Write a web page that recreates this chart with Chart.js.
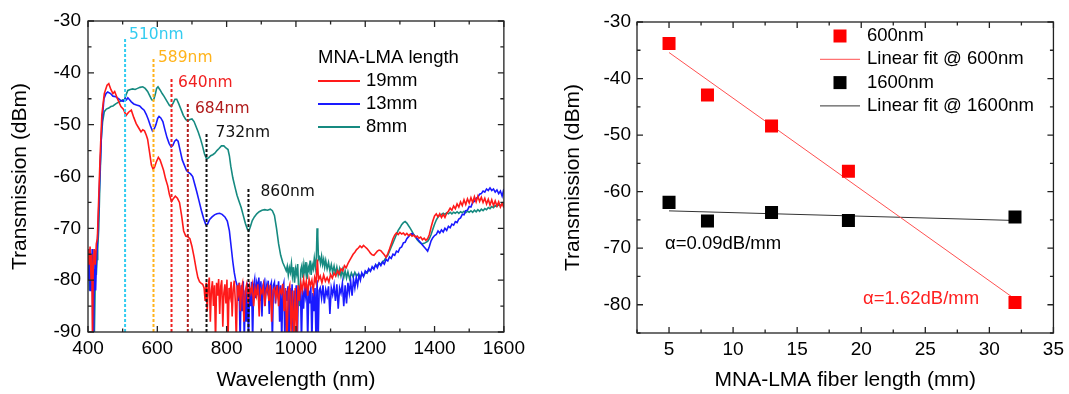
<!DOCTYPE html>
<html>
<head>
<meta charset="utf-8">
<script src="https://cdn.jsdelivr.net/npm/chart.js@4.4.1/dist/chart.umd.min.js"></script>
<style>
  body { margin: 0; background: #fff; }
  canvas { position: absolute; top: 0; }
  #spectra { left: 0; }
  #loss { left: 555px; }
</style>
</head>
<body>
<canvas id="spectra" width="530" height="394"></canvas>
<canvas id="loss" width="514" height="394"></canvas>
<script>
// ---- left panel: transmission spectra (wavelength nm, dBm) ----
const red19 = [[400,-74],[403,-77],[406,-73.5],[409,-80],[411,-75],[413,-92],[415,-78],[418,-74],[421,-77],[424,-73],[427,-72],[430,-66],[435,-56],[440,-48],[447,-44],[455,-42.4],[460,-42.1],[466,-43.2],[472,-44],[477,-43.6],[485,-45],[495,-46.5],[502,-47],[510,-48.2],[517,-47.6],[525,-47.2],[532,-48.6],[539,-49.8],[546,-50.6],[553,-51.4],[558,-51],[563,-51.2],[568,-52],[572,-52.8],[578,-55.5],[583,-57.8],[588,-58.6],[592,-58.2],[597,-57.2],[603,-56.3],[608,-56.8],[613,-57.8],[618,-58.8],[624,-60.5],[630,-61.8],[635,-63.5],[641,-64.8],[646,-64.3],[652,-63.8],[658,-64.2],[664,-65],[670,-67.5],[676,-70.5],[682,-71.5],[688,-71.6],[694,-72],[700,-73.5],[706,-75.5],[712,-77.8],[717,-79.5],[722,-80.3],[727,-80.6],[731,-80.8],
  [735,-81.5],[738,-84],[741,-80.5],[744,-86],[747,-81],[750,-79.5],[753,-88],[756,-82],[759,-80.2],[762,-85],[765,-81],[768,-92],[771,-80.5],[774,-83],[777,-79.8],[780,-86.5],[783,-81.2],[786,-80],[789,-89],[792,-82.5],[795,-80.8],[798,-84.5],[801,-79.9],[804,-92],[807,-81.5],[810,-83],[813,-80.3],[816,-87],[819,-81.8],[822,-80.1],[825,-84],[828,-92],[831,-81],[834,-82.5],[837,-80.5],[840,-86],[843,-81.5],[846,-80.6],[850,-88],[854,-82],[858,-80.8],[862,-84.5],[866,-81.2],[870,-82.5],[874,-80.9],[878,-85],[882,-81.5],[886,-83],[890,-80.8],[894,-87],[898,-81.8],[902,-82.5],[906,-81],[910,-85],[914,-82],[918,-81.2],[922,-84],[926,-80.9],[930,-88],[934,-82],[938,-81.5],[942,-83.5],[946,-81],[950,-85],[954,-81.8],[958,-82.5],[962,-80.7],[966,-86],[970,-81.5],[974,-92],[978,-82],[982,-81],[986,-90],[990,-82],[994,-92],[998,-81.5],[1002,-92],[1006,-81],[1010,-84],[1014,-80.5],[1018,-82],[1022,-79.8],[1026,-81.5],[1030,-80.2],[1034,-83],[1038,-79.8],[1042,-81],[1046,-80],[1050,-82],[1054,-79.5],[1058,-80.5],[1062,-76],[1065,-80],
  [1070,-79.2],[1075,-80.5],[1080,-79],[1085,-80.2],[1090,-79.5],[1095,-80.4],[1100,-78.9],[1105,-79.6],[1110,-78.6],[1115,-79.2],[1120,-78.2],[1125,-78.8],[1130,-77.8],[1135,-78.2],[1140,-77.2],[1145,-77.6],[1150,-76.8],[1155,-76.2],[1160,-75.6],[1165,-75],[1170,-74.6],[1175,-74.1],[1180,-73.8],[1185,-73.4],[1190,-73.7],[1195,-73.3],[1200,-73.6],[1205,-73.9],[1210,-74.3],[1215,-74.8],[1220,-75.1],[1225,-75.2],[1230,-74.8],[1235,-74.4],[1240,-74.2],[1245,-74.3],[1250,-74.7],[1255,-75.1],[1260,-75.6],[1265,-74.9],[1270,-74],[1275,-73],[1280,-72],[1285,-71.3],[1290,-70.9],[1295,-71.2],[1300,-70.8],[1305,-71.1],[1310,-70.9],[1315,-71.3],[1320,-71],[1325,-71.4],[1330,-71.1],[1335,-71.5],[1340,-71.3],[1345,-71.7],[1350,-71.5],[1355,-71.9],[1360,-71.7],[1365,-72.2],[1370,-71.9],[1375,-72.3],[1380,-72],[1385,-71.2],[1390,-69.8],[1395,-68.6],[1400,-67.6],[1405,-67.2],[1410,-67.8],[1415,-67.2],[1420,-67.9],[1425,-67.3],[1430,-67.9],[1435,-67.1],[1440,-66.7],[1445,-66.1],[1450,-66.5],[1455,-65.7],[1460,-66.2],[1465,-65.3],[1470,-65.9],[1475,-64.9],[1480,-65.6],[1485,-64.5],[1490,-65.4],[1495,-64.3],[1500,-65.1],[1505,-64.1],[1510,-65],[1515,-63.9],[1520,-64.9],[1525,-63.8],[1530,-64.8],[1535,-64],[1540,-65],[1545,-64.2],[1550,-65.3],[1555,-64.4],[1560,-65.5],[1565,-64.5],[1570,-65.6],[1575,-64.7],[1580,-65.7],[1585,-64.9],[1590,-65.9],[1595,-65.2],[1600,-66]];

const blue13 = [[400,-75],[402,-80],[404,-74],[406,-82],[408,-76],[410,-81],[412,-74],[414,-92],[416,-92],[418,-78],[420,-75],[422,-82],[424,-77],[426,-74],[429,-70],[434,-60],[440,-50],[446,-45],[452,-44],[457,-43.7],[465,-44],[472,-44.5],[480,-44.6],[488,-45],[496,-45.4],[502,-45.5],[507,-45],[511,-45.2],[515,-44.8],[520,-45.2],[525,-45.6],[532,-46],[540,-46.2],[549,-46.4],[555,-46.8],[562,-47.2],[568,-48],[574,-49],[580,-50.2],[586,-51.2],[591,-50.8],[596,-50],[601,-48.8],[605,-48.4],[610,-48.7],[616,-49.4],[622,-51],[628,-52.5],[634,-53.6],[640,-54.3],[645,-54],[650,-53.2],[655,-52.9],[660,-53.2],[666,-55],[672,-56.8],[678,-57.8],[684,-58.8],[690,-59.2],[696,-59.5],[702,-60],[708,-61.5],[714,-63],[720,-64.6],[727,-66.5],[734,-68.2],[740,-69.3],[745,-69.2],[751,-68.3],[758,-67.8],[765,-67.4],[772,-67.2],[780,-67.1],[787,-67.3],[795,-67.8],[802,-68.6],[808,-70.5],[813,-73.5],[818,-76.5],[822,-78.5],[826,-80],[830,-81],
  [833,-84],[836,-80.5],[839,-92],[842,-81],[845,-86],[848,-80.2],[851,-92],[854,-82],[857,-88],[860,-80.5],[863,-92],[866,-81.5],[869,-85],[872,-80.3],[875,-92],[878,-81],[881,-79.8],[884,-83.5],[887,-80.5],[890,-81.5],[893,-79.5],[896,-84],[899,-80.2],[902,-87],[905,-81],[908,-80.3],[911,-85],[914,-80.8],[917,-82],[920,-80.1],[923,-86.5],[926,-81.2],[929,-80.5],[932,-92],[935,-81],[938,-80.4],[941,-84.5],[944,-80.9],[947,-82.5],[950,-80.2],[953,-88],[956,-81],[959,-92],[962,-81.5],[965,-80.6],[968,-92],[971,-82],[974,-84],[977,-81.2],[980,-92],[983,-81.5],[986,-85],[989,-80.8],[992,-92],[995,-82],[998,-83.5],[1001,-81],[1004,-92],[1007,-81.8],[1010,-84],[1013,-81],[1016,-92],[1019,-82],[1022,-85.5],[1025,-81.2],[1028,-83],[1031,-80.8],[1034,-92],[1037,-82],[1040,-84.5],[1043,-81.2],[1046,-92],[1049,-82.5],[1052,-86],[1055,-81.5],[1058,-92],[1061,-80],[1064,-92],[1067,-82],
  [1070,-81.5],[1074,-83.5],[1078,-81],[1082,-84.5],[1086,-81.8],[1090,-83],[1094,-81.2],[1098,-86.5],[1102,-81.5],[1106,-82.8],[1110,-81],[1114,-84],[1118,-80.8],[1122,-85.5],[1126,-81.5],[1130,-82.5],[1134,-80.6],[1138,-85],[1142,-81],[1146,-84.5],[1150,-80.5],[1154,-82.5],[1158,-80.2],[1162,-83],[1166,-79.8],[1170,-81.5],[1174,-79.5],[1178,-81],[1182,-79],[1186,-80],[1190,-78.6],[1195,-79.3],[1200,-78.2],[1205,-78.6],[1210,-77.8],[1215,-78.3],[1220,-77.4],[1225,-77.9],[1230,-77],[1235,-77.6],[1240,-76.7],[1245,-77.2],[1250,-76.5],[1255,-76.9],[1260,-76],[1265,-76.3],[1270,-75.5],[1275,-75.8],[1280,-75],[1285,-75.2],[1290,-74.4],[1295,-74.6],[1300,-73.8],[1305,-73.6],[1310,-72.8],[1315,-72.7],[1320,-72],[1325,-71.6],[1330,-71.2],[1335,-71],[1340,-71.3],[1345,-71.6],[1350,-72],[1355,-72.4],[1360,-72.8],[1365,-73.2],[1370,-73.6],[1375,-74],[1380,-74.4],[1385,-73.5],[1390,-72.4],[1395,-71.8],[1400,-71.4],[1405,-71.2],[1410,-70.5],[1415,-70.9],[1420,-70.3],[1425,-70.7],[1430,-70],[1435,-70.4],[1440,-69.6],[1445,-69.9],[1450,-69.2],[1455,-69.4],[1460,-68.7],[1465,-68.9],[1470,-68.2],[1475,-68],[1480,-67.3],[1485,-67.4],[1490,-66.6],[1495,-66.5],[1500,-65.8],[1505,-65.9],[1510,-65],[1515,-64.8],[1520,-64.2],[1525,-64],[1530,-63.4],[1535,-63.3],[1540,-62.8],[1545,-63],[1550,-62.4],[1555,-62.7],[1560,-62.2],[1565,-62.7],[1570,-62.4],[1575,-63],[1580,-62.6],[1585,-63.3],[1590,-62.8],[1595,-63.8],[1600,-62.4]];

const teal8 = [[400,-78],[402,-74],[404,-82],[406,-76],[408,-80],[410,-75],[412,-79],[414,-77],[416,-84],[418,-92],[420,-92],[422,-76],[424,-79],[426,-76],[428,-74],[431,-70],[434,-62],[438,-53],[442,-49.5],[447,-47.5],[453,-47],[460,-46.8],[466,-46.5],[472,-46.4],[480,-46],[487,-45.7],[494,-45.5],[500,-45.2],[505,-45.3],[510,-44.2],[515,-43.4],[522,-43.2],[529,-43.1],[536,-43.2],[543,-43],[550,-42.8],[558,-42.7],[565,-43],[572,-43.6],[578,-44.4],[584,-45.2],[589,-45.3],[594,-44.2],[598,-43],[602,-42.7],[608,-43.3],[614,-44],[620,-44.6],[628,-45.5],[635,-46.3],[640,-46.5],[646,-45.8],[651,-45.1],[656,-45.1],[662,-46],[668,-47],[675,-48.2],[682,-49],[688,-49.3],[694,-49],[700,-48.9],[706,-49.4],[712,-50.4],[718,-51.4],[724,-52.6],[730,-54],[736,-55.6],[742,-56.6],[748,-56.4],[754,-56],[760,-55.8],[766,-55.5],[772,-55],[778,-54.6],[785,-54.1],[792,-54.1],[798,-54.5],[804,-54.8],[808,-56],[812,-58],[818,-60.3],[824,-62],[830,-63.6],[836,-64.8],[842,-66],[848,-67.5],[854,-69],[860,-70.2],[864,-70.5],[868,-69.8],[874,-68.5],[880,-67.8],[887,-67.2],[894,-66.8],[902,-66.5],[910,-66.4],[918,-66.5],[926,-66.3],[932,-66.6],[938,-67.5],[944,-70],[950,-73],[956,-75.2],[962,-76.6],[968,-77.5],
  [972,-78.2],[975,-77.3],[978,-79],[981,-77.6],[984,-78.5],[987,-76.8],[990,-79.2],[993,-77.5],[996,-80.5],[999,-77.8],[1002,-78.8],[1005,-76.9],[1008,-82],[1011,-85],[1014,-78],[1017,-77.2],[1020,-79.5],[1023,-77],[1026,-78.6],[1029,-76.5],[1032,-79.8],[1035,-77.4],[1038,-78.2],[1041,-76.2],[1044,-79],[1047,-77],[1050,-77.8],[1053,-75.8],[1056,-77.6],[1059,-75.5],[1061,-70],[1063,-71.5],[1065,-76],[1068,-75.6],[1071,-76.8],[1074,-75.4],[1077,-77],[1080,-76],[1083,-77.5],[1086,-76.2],[1090,-77.8],[1094,-76.6],[1098,-78.2],[1102,-77],[1106,-78.5],[1110,-77.3],[1114,-78.8],[1118,-77.5],[1122,-79],[1126,-77.8],[1130,-79.2],[1134,-78],[1138,-79.5],[1142,-78.2],[1146,-79.6],[1150,-78.4],[1155,-79.8],[1160,-78.6],[1165,-79.4],[1170,-78.5],[1175,-79.2],[1180,-78.8],[1185,-79.4],[1190,-78.8],[1195,-79.2],[1200,-78.6],[1205,-78.6],[1210,-78.1],[1215,-78.2],[1220,-77.6],[1225,-77.6],[1230,-77.1],[1235,-77.2],[1240,-76.7],[1245,-76.9],[1250,-76.4],[1255,-76.2],[1260,-75.6],[1265,-75.2],[1270,-74.4],[1275,-73.6],[1280,-72.8],[1285,-72],[1290,-71.2],[1295,-70.4],[1300,-69.9],[1305,-69.3],[1310,-68.9],[1315,-68.7],[1320,-69],[1325,-69.5],[1330,-70],[1335,-70.6],[1340,-71.2],[1345,-71.7],[1350,-72.2],[1355,-72.6],[1360,-72.9],[1365,-73],[1370,-72.9],[1375,-72.7],[1380,-72.5],[1385,-72],[1390,-71.2],[1395,-70.2],[1400,-69.2],[1405,-68.4],[1410,-67.8],[1415,-67.5],[1420,-67.3],[1425,-67.1],[1430,-67.3],[1435,-67],[1440,-67.2],[1445,-66.9],[1450,-67.2],[1455,-66.9],[1460,-67.1],[1465,-66.8],[1470,-67.1],[1475,-66.8],[1480,-67],[1485,-66.7],[1490,-67],[1495,-66.7],[1500,-66.9],[1505,-66.6],[1510,-66.9],[1515,-66.5],[1520,-66.8],[1525,-66.4],[1530,-66.7],[1535,-66.3],[1540,-66.6],[1545,-66.2],[1550,-66.4],[1555,-66],[1560,-66.2],[1565,-65.8],[1570,-66],[1575,-65.6],[1580,-65.8],[1585,-65.4],[1590,-65.6],[1595,-65.2],[1600,-65.3]];

const seriesName = ['19mm', '13mm', '8mm'];
const seriesColor = ['#ff1a1a', '#1a1aff', '#168a80'];

// dashed resonance markers
const markerWl = [507, 589, 641, 688, 742, 863];
const markerTop = [-33.2, -37.2, -40.8, -46, -51.6, -62.4];
const markerLabel = ['510nm', '589nm', '640nm', '684nm', '732nm', '860nm'];
const markerColor = ['#33ccf0', '#ffb31a', '#f02020', '#b01c1c', '#111', '#111'];

// ---- right panel: loss vs fiber length ----
const fiberLength = [5, 8, 13, 19, 32];
const trans600 = [-33.8, -42.9, -48.4, -56.4, -79.6];
const trans1600 = [-61.9, -65.2, -63.7, -65.1, -64.5];
const fitLength = [5, 32];
const fit600 = [-35.4, -79.0];
const fit1600 = [-63.4, -65.1];
const lossTicksX = [5, 10, 15, 20, 25, 30, 35];
const lossTicksY = [-80, -70, -60, -50, -40, -30];

Chart.defaults.font.family = "'Liberation Sans', Arial, sans-serif";
Chart.defaults.color = '#000';

// frame with inward major/minor ticks on all four sides
const boxTicks = {
  id: 'boxTicks',
  afterDatasetsDraw(chart) {
    const { ctx, chartArea: a, scales } = chart;
    ctx.save();
    ctx.strokeStyle = '#222';
    ctx.lineWidth = 1.3;
    ctx.strokeRect(a.left, a.top, a.right - a.left, a.bottom - a.top);
    ctx.beginPath();
    ['x', 'y'].forEach(id => {
      const s = scales[id];
      const major = s.ticks.map(t => t.value);
      const step = major[1] - major[0];
      const marks = major.map(v => [v, 6]);
      for (let v = major[0] - step / 2; v <= s.max + 1e-9; v += step) {
        if (v >= s.min - 1e-9) marks.push([v, 3.5]);
      }
      marks.forEach(([v, len]) => {
        const p = s.getPixelForValue(v);
        if (id === 'x') {
          ctx.moveTo(p, a.bottom); ctx.lineTo(p, a.bottom - len);
          ctx.moveTo(p, a.top); ctx.lineTo(p, a.top + len);
        } else {
          ctx.moveTo(a.left, p); ctx.lineTo(a.left + len, p);
          ctx.moveTo(a.right, p); ctx.lineTo(a.right - len, p);
        }
      });
    });
    ctx.stroke();
    ctx.restore();
  }
};

const tickFont = { size: 19 };
const titleFont = { size: 21 };
const noGrid = { display: false, drawTicks: false };
const plainNum = v => String(v);

// labels next to dashed lines + legend
const labelDx = [4, 4.5, 6.6, 7.2, 9, 12];
const labelDy = [-3, 0, 6, 5, 0, 3];
const spectraDecor = {
  id: 'spectraDecor',
  afterDraw(chart) {
    const { ctx, chartArea: a, scales: { x, y } } = chart;
    ctx.save();
    ctx.textBaseline = 'middle';
    ctx.font = '15.5px "DejaVu Sans"';
    markerWl.forEach((wl, i) => {
      ctx.fillStyle = markerColor[i];
      ctx.fillText(markerLabel[i], x.getPixelForValue(wl) + labelDx[i], y.getPixelForValue(markerTop[i]) + labelDy[i]);
    });

    ctx.font = '18.5px "Liberation Sans"';
    ctx.fillStyle = '#000';
    const lx = a.left + 230, ly = a.top + 37;
    ctx.fillText('MNA-LMA length', lx, ly);
    seriesName.forEach((name, i) => {
      const yy = ly + 23 * (i + 1);
      ctx.strokeStyle = seriesColor[i];
      ctx.lineWidth = 2;
      ctx.beginPath();
      ctx.moveTo(lx, yy);
      ctx.lineTo(lx + 42, yy);
      ctx.stroke();
      ctx.fillStyle = '#000';
      ctx.fillText(name, lx + 48, yy);
    });
    ctx.restore();
  }
};

const toXY = arr => arr.map(p => ({ x: p[0], y: p[1] }));

const spectraSets = [red19, blue13, teal8].map((d, i) => ({
  data: toXY(d),
  borderColor: seriesColor[i],
  borderWidth: 1.6,
  pointRadius: 0,
  order: 2
}));
markerWl.forEach((wl, i) => {
  spectraSets.push({
    data: [{ x: wl, y: -90 }, { x: wl, y: markerTop[i] }],
    borderColor: markerColor[i],
    borderWidth: 2,
    borderDash: [3, 2],
    pointRadius: 0,
    order: 1
  });
});

new Chart(document.getElementById('spectra'), {
  type: 'line',
  data: { datasets: spectraSets },
  options: {
    responsive: false,
    animation: false,
    layout: { padding: { top: 21, right: 24, bottom: 0, left: 0 } },
    plugins: { legend: { display: false }, tooltip: { enabled: false } },
    scales: {
      x: {
        type: 'linear', min: 400, max: 1600,
        ticks: { stepSize: 200, padding: 5, font: tickFont, callback: plainNum },
        grid: noGrid, border: { display: false },
        title: { display: true, text: 'Wavelength (nm)', font: titleFont, padding: { top: 0, bottom: 1.4 } },
        afterFit: s => { s.height = 62; }
      },
      y: {
        min: -90, max: -30,
        ticks: { stepSize: 10, padding: 7, font: tickFont, callback: plainNum },
        grid: noGrid, border: { display: false },
        title: { display: true, text: 'Transmission (dBm)', font: titleFont, padding: { top: 7.4, bottom: 0 } },
        afterFit: s => { s.width = 88; }
      }
    }
  },
  plugins: [boxTicks, spectraDecor]
});

// legend and slope notes for the right panel
const lossDecor = {
  id: 'lossDecor',
  afterDraw(chart) {
    const { ctx, chartArea: a } = chart;
    ctx.save();
    ctx.textBaseline = 'middle';
    ctx.font = '18.5px "Liberation Sans"';
    const rows = [
      { text: '600nm', kind: 'sq', color: '#ff0000' },
      { text: 'Linear fit @ 600nm', kind: 'ln', color: '#ff5050' },
      { text: '1600nm', kind: 'sq', color: '#000' },
      { text: 'Linear fit @ 1600nm', kind: 'ln', color: '#333' }
    ];
    rows.forEach((r, i) => {
      const yy = a.top + 14 + 23.3 * i;
      if (r.kind === 'sq') {
        ctx.fillStyle = r.color;
        ctx.fillRect(a.left + 196.5, yy - 6.5, 13, 13);
      } else {
        ctx.strokeStyle = r.color;
        ctx.lineWidth = 1;
        ctx.beginPath();
        ctx.moveTo(a.left + 183, yy);
        ctx.lineTo(a.left + 223, yy);
        ctx.stroke();
      }
      ctx.fillStyle = '#000';
      ctx.fillText(r.text, a.left + 230, yy);
    });
    ctx.fillStyle = '#000';
    ctx.fillText('\u03b1=0.09dB/mm', a.left + 28, a.top + 222);
    ctx.fillStyle = '#ff2020';
    ctx.fillText('\u03b1=1.62dB/mm', a.left + 226, a.top + 277);
    ctx.restore();
  }
};

const pairs = (xs, ys) => xs.map((v, i) => ({ x: v, y: ys[i] }));

new Chart(document.getElementById('loss'), {
  type: 'scatter',
  data: {
    datasets: [
      { data: pairs(fiberLength, trans600), pointStyle: 'rect', pointRadius: 9.2, backgroundColor: '#ff0000', borderWidth: 0, order: 1 },
      { data: pairs(fiberLength, trans1600), pointStyle: 'rect', pointRadius: 9.2, backgroundColor: '#000', borderWidth: 0, order: 1 },
      { data: pairs(fitLength, fit600), showLine: true, pointRadius: 0, borderColor: '#ff5050', borderWidth: 1, order: 2 },
      { data: pairs(fitLength, fit1600), showLine: true, pointRadius: 0, borderColor: '#333', borderWidth: 1, order: 2 }
    ]
  },
  options: {
    responsive: false,
    animation: false,
    layout: { padding: { top: 22, right: 15, bottom: 0, left: 0 } },
    plugins: { legend: { display: false }, tooltip: { enabled: false } },
    scales: {
      x: {
        type: 'linear', min: 2.5, max: 35,
        afterBuildTicks: s => { s.ticks = lossTicksX.map(v => ({ value: v })); },
        ticks: { padding: 5, font: tickFont, callback: plainNum },
        grid: noGrid, border: { display: false },
        title: { display: true, text: 'MNA-LMA fiber length (mm)', font: titleFont, padding: { top: 0, bottom: 1.4 } },
        afterFit: s => { s.height = 61; }
      },
      y: {
        min: -85, max: -30,
        afterBuildTicks: s => { s.ticks = lossTicksY.map(v => ({ value: v })); },
        ticks: { padding: 6, font: tickFont, callback: plainNum },
        grid: noGrid, border: { display: false },
        title: { display: true, text: 'Transmission (dBm)', font: titleFont, padding: { top: 6, bottom: 0 } },
        afterFit: s => { s.width = 82; }
      }
    }
  },
  plugins: [boxTicks, lossDecor]
});
</script>
</body>
</html>
